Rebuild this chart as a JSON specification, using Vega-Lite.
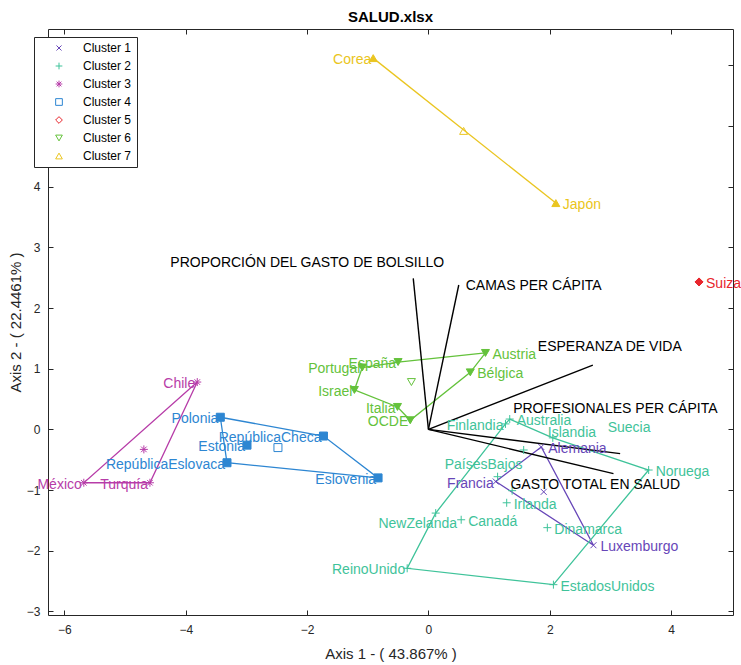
{
  "$schema": "https://vega.github.io/schema/vega-lite/v6.json",
  "width": 685,
  "height": 586,
  "autosize": {"type": "none"},
  "padding": {"left": 48, "top": 29, "right": 8, "bottom": 50},
  "background": "white",
  "title": {"text": "SALUD.xlsx", "fontSize": 15, "fontWeight": "bold", "font": "Liberation Sans", "color": "#000000", "anchor": "middle", "frame": "group", "baseline": "alphabetic", "offset": 6, "dy": 14},
  "config": {
    "font": "Liberation Sans",
    "view": {"stroke": "#262626", "strokeWidth": 1},
    "axis": {"grid": false, "domain": false, "tickColor": "#262626", "tickSize": -5, "labelFont": "Liberation Sans", "labelFontSize": 12, "labelColor": "#262626", "titleFont": "Liberation Sans", "titleFontSize": 15, "titleFontWeight": "normal", "titleColor": "#262626"}
  },
  "datasets": {
    "puntos": [
      {"pais": "Alemania", "cluster": "Cluster 1", "x": 1.86, "y": -0.29, "tipo": "pais"},
      {"pais": "Francia", "cluster": "Cluster 1", "x": 1.11, "y": -0.86, "tipo": "pais"},
      {"pais": "Luxemburgo", "cluster": "Cluster 1", "x": 2.72, "y": -1.91, "tipo": "pais"},
      {"pais": "Centroide 1", "cluster": "Cluster 1", "x": 1.90, "y": -1.03, "tipo": "centroide"},
      {"pais": "Finlandia", "cluster": "Cluster 2", "x": 1.27, "y": 0.09, "tipo": "pais"},
      {"pais": "Australia", "cluster": "Cluster 2", "x": 1.34, "y": 0.17, "tipo": "pais"},
      {"pais": "Islandia", "cluster": "Cluster 2", "x": 2.05, "y": -0.14, "tipo": "pais"},
      {"pais": "Suecia", "cluster": "Cluster 2", "x": 1.57, "y": -0.34, "tipo": "pais"},
      {"pais": "Noruega", "cluster": "Cluster 2", "x": 3.63, "y": -0.67, "tipo": "pais"},
      {"pais": "PaísesBajos", "cluster": "Cluster 2", "x": 1.14, "y": -0.78, "tipo": "pais"},
      {"pais": "Irlanda", "cluster": "Cluster 2", "x": 1.29, "y": -1.21, "tipo": "pais"},
      {"pais": "Canadá", "cluster": "Cluster 2", "x": 0.54, "y": -1.49, "tipo": "pais"},
      {"pais": "NewZelanda", "cluster": "Cluster 2", "x": 0.12, "y": -1.38, "tipo": "pais"},
      {"pais": "Dinamarca", "cluster": "Cluster 2", "x": 1.96, "y": -1.62, "tipo": "pais"},
      {"pais": "ReinoUnido", "cluster": "Cluster 2", "x": -0.35, "y": -2.29, "tipo": "pais"},
      {"pais": "EstadosUnidos", "cluster": "Cluster 2", "x": 2.06, "y": -2.56, "tipo": "pais"},
      {"pais": "Centroide 2", "cluster": "Cluster 2", "x": 1.38, "y": -1.01, "tipo": "centroide"},
      {"pais": "Chile", "cluster": "Cluster 3", "x": -3.81, "y": 0.78, "tipo": "pais"},
      {"pais": "México", "cluster": "Cluster 3", "x": -5.68, "y": -0.88, "tipo": "pais"},
      {"pais": "Turquía", "cluster": "Cluster 3", "x": -4.59, "y": -0.88, "tipo": "pais"},
      {"pais": "Centroide 3", "cluster": "Cluster 3", "x": -4.69, "y": -0.33, "tipo": "centroide"},
      {"pais": "Polonia", "cluster": "Cluster 4", "x": -3.43, "y": 0.20, "tipo": "pais"},
      {"pais": "RepúblicaCheca", "cluster": "Cluster 4", "x": -1.73, "y": -0.11, "tipo": "pais"},
      {"pais": "Estonia", "cluster": "Cluster 4", "x": -2.99, "y": -0.26, "tipo": "pais"},
      {"pais": "RepúblicaEslovaca", "cluster": "Cluster 4", "x": -3.32, "y": -0.55, "tipo": "pais"},
      {"pais": "Eslovenia", "cluster": "Cluster 4", "x": -0.83, "y": -0.80, "tipo": "pais"},
      {"pais": "Centroide 4", "cluster": "Cluster 4", "x": -2.48, "y": -0.30, "tipo": "centroide"},
      {"pais": "Suiza", "cluster": "Cluster 5", "x": 4.46, "y": 2.43, "tipo": "pais"},
      {"pais": "Centroide 5", "cluster": "Cluster 5", "x": 4.46, "y": 2.43, "tipo": "centroide"},
      {"pais": "Austria", "cluster": "Cluster 6", "x": 0.94, "y": 1.26, "tipo": "pais"},
      {"pais": "Bélgica", "cluster": "Cluster 6", "x": 0.69, "y": 0.94, "tipo": "pais"},
      {"pais": "Portugal", "cluster": "Cluster 6", "x": -1.09, "y": 1.02, "tipo": "pais"},
      {"pais": "España", "cluster": "Cluster 6", "x": -0.50, "y": 1.11, "tipo": "pais"},
      {"pais": "Israel", "cluster": "Cluster 6", "x": -1.22, "y": 0.65, "tipo": "pais"},
      {"pais": "Italia", "cluster": "Cluster 6", "x": -0.51, "y": 0.37, "tipo": "pais"},
      {"pais": "OCDE", "cluster": "Cluster 6", "x": -0.30, "y": 0.15, "tipo": "pais"},
      {"pais": "Centroide 6", "cluster": "Cluster 6", "x": -0.28, "y": 0.78, "tipo": "centroide"},
      {"pais": "Corea", "cluster": "Cluster 7", "x": -0.91, "y": 6.12, "tipo": "pais"},
      {"pais": "Japón", "cluster": "Cluster 7", "x": 2.10, "y": 3.73, "tipo": "pais"},
      {"pais": "Centroide 7", "cluster": "Cluster 7", "x": 0.58, "y": 4.92, "tipo": "centroide"}
    ],
    "envolventes": [
      {"cluster": "Cluster 1", "orden": 1, "x": 1.86, "y": -0.29},
      {"cluster": "Cluster 1", "orden": 2, "x": 1.11, "y": -0.86},
      {"cluster": "Cluster 1", "orden": 3, "x": 2.72, "y": -1.91},
      {"cluster": "Cluster 1", "orden": 4, "x": 1.86, "y": -0.29},
      {"cluster": "Cluster 2", "orden": 1, "x": 1.34, "y": 0.17},
      {"cluster": "Cluster 2", "orden": 2, "x": 2.05, "y": -0.14},
      {"cluster": "Cluster 2", "orden": 3, "x": 3.63, "y": -0.67},
      {"cluster": "Cluster 2", "orden": 4, "x": 2.06, "y": -2.56},
      {"cluster": "Cluster 2", "orden": 5, "x": -0.35, "y": -2.29},
      {"cluster": "Cluster 2", "orden": 6, "x": 0.12, "y": -1.38},
      {"cluster": "Cluster 2", "orden": 7, "x": 1.27, "y": 0.09},
      {"cluster": "Cluster 2", "orden": 8, "x": 1.34, "y": 0.17},
      {"cluster": "Cluster 3", "orden": 1, "x": -3.81, "y": 0.78},
      {"cluster": "Cluster 3", "orden": 2, "x": -5.68, "y": -0.88},
      {"cluster": "Cluster 3", "orden": 3, "x": -4.59, "y": -0.88},
      {"cluster": "Cluster 3", "orden": 4, "x": -3.81, "y": 0.78},
      {"cluster": "Cluster 4", "orden": 1, "x": -3.43, "y": 0.20},
      {"cluster": "Cluster 4", "orden": 2, "x": -1.73, "y": -0.11},
      {"cluster": "Cluster 4", "orden": 3, "x": -0.83, "y": -0.80},
      {"cluster": "Cluster 4", "orden": 4, "x": -3.32, "y": -0.55},
      {"cluster": "Cluster 4", "orden": 5, "x": -3.43, "y": 0.20},
      {"cluster": "Cluster 6", "orden": 1, "x": 0.94, "y": 1.26},
      {"cluster": "Cluster 6", "orden": 2, "x": -0.50, "y": 1.11},
      {"cluster": "Cluster 6", "orden": 3, "x": -1.09, "y": 1.02},
      {"cluster": "Cluster 6", "orden": 4, "x": -1.22, "y": 0.65},
      {"cluster": "Cluster 6", "orden": 5, "x": -0.51, "y": 0.37},
      {"cluster": "Cluster 6", "orden": 6, "x": -0.30, "y": 0.15},
      {"cluster": "Cluster 6", "orden": 7, "x": 0.69, "y": 0.94},
      {"cluster": "Cluster 6", "orden": 8, "x": 0.94, "y": 1.26},
      {"cluster": "Cluster 7", "orden": 1, "x": -0.91, "y": 6.12},
      {"cluster": "Cluster 7", "orden": 2, "x": 2.10, "y": 3.73}
    ],
    "variables": [
      {"variable": "PROPORCIÓN DEL GASTO DE BOLSILLO", "x": -0.25, "y": 2.49},
      {"variable": "CAMAS PER CÁPITA", "x": 0.50, "y": 2.38},
      {"variable": "ESPERANZA DE VIDA", "x": 2.71, "y": 1.06},
      {"variable": "PROFESIONALES PER CÁPITA", "x": 3.16, "y": -0.40},
      {"variable": "GASTO TOTAL EN SALUD", "x": 3.05, "y": -0.73}
    ]
  },
  "layer": [
    {
      "data": {"name": "envolventes"},
      "mark": {"type": "line", "strokeWidth": 1.3},
      "encoding": {
        "x": {"field": "x", "type": "quantitative", "scale": {"domain": [-6.27, 5.02], "nice": false, "zero": false}, "axis": {"orient": "bottom", "values": [-6, -4, -2, 0, 2, 4], "labelPadding": 14, "title": "Axis 1 - ( 43.867% )", "titleBaseline": "middle", "titleY": 38}},
        "y": {"field": "y", "type": "quantitative", "scale": {"domain": [-3.06, 6.6], "nice": false, "zero": false}, "axis": {"orient": "left", "values": [-3, -2, -1, 0, 1, 2, 3, 4], "labelPadding": 13, "title": "Axis 2 - ( 22.4461% )", "titleAngle": -90, "titleBaseline": "middle", "titleX": -33, "titleY": 293}},
        "order": {"field": "orden", "type": "quantitative"},
        "detail": {"field": "cluster", "type": "nominal"},
        "stroke": {"field": "cluster", "type": "nominal", "scale": {"domain": ["Cluster 7", "Cluster 6", "Cluster 5", "Cluster 4", "Cluster 3", "Cluster 2", "Cluster 1"], "range": ["#eac520", "#64c23b", "#e8262d", "#2d86d2", "#b73ca8", "#3fc39a", "#6746b8"]}, "legend": null}
      }
    },
    {
      "data": {"name": "variables"},
      "mark": {"type": "rule", "color": "#000000", "strokeWidth": 1.4},
      "encoding": {
        "x": {"field": "x", "type": "quantitative", "scale": {"domain": [-6.27, 5.02], "nice": false, "zero": false}, "axis": {"orient": "top", "values": [-6, -4, -2, 0, 2, 4], "labels": false, "title": null}},
        "y": {"field": "y", "type": "quantitative", "scale": {"domain": [-3.06, 6.6], "nice": false, "zero": false}, "axis": {"orient": "right", "values": [-3, -2, -1, 0, 1, 2, 3, 4, 5, 6], "labels": false, "title": null}},
        "x2": {"datum": 0},
        "y2": {"datum": 0}
      }
    },
    {
      "data": {"name": "puntos"},
      "transform": [{"filter": "datum.tipo == 'pais'"}],
      "mark": {"type": "point", "filled": false, "strokeWidth": 1, "size": 64, "opacity": 1},
      "encoding": {
        "x": {"field": "x", "type": "quantitative", "scale": {"domain": [-6.27, 5.02], "nice": false, "zero": false}, "axis": null},
        "y": {"field": "y", "type": "quantitative", "scale": {"domain": [-3.06, 6.6], "nice": false, "zero": false}, "axis": null},
        "color": {"field": "cluster", "type": "nominal", "scale": {"domain": ["Cluster 1", "Cluster 2", "Cluster 3", "Cluster 4", "Cluster 5", "Cluster 6", "Cluster 7"], "range": ["#6746b8", "#3fc39a", "#b73ca8", "#2d86d2", "#e8262d", "#64c23b", "#eac520"]},
          "legend": {"orient": "none", "legendX": -14, "legendY": 8, "title": null, "fillColor": "white", "strokeColor": "#262626", "padding": 5, "labelFontSize": 12, "labelFont": "Liberation Sans", "labelColor": "#000000", "symbolSize": 45, "symbolStrokeWidth": 1, "symbolOffset": 14, "labelOffset": 18, "rowPadding": 6, "zindex": 2}},
        "shape": {"field": "cluster", "type": "nominal", "scale": {"domain": ["Cluster 1", "Cluster 2", "Cluster 3", "Cluster 4", "Cluster 5", "Cluster 6", "Cluster 7"], "range": ["M-0.75,-0.75L0.75,0.75M-0.75,0.75L0.75,-0.75", "M-1,0L1,0M0,-1L0,1", "M-1,0L1,0M0,-1L0,1M-0.7,-0.7L0.7,0.7M-0.7,0.7L0.7,-0.7", "square", "diamond", "triangle-down", "triangle-up"]},
          "legend": {"orient": "none", "legendX": -14, "legendY": 8, "title": null, "fillColor": "white", "strokeColor": "#262626", "padding": 5, "labelFontSize": 12, "labelFont": "Liberation Sans", "labelColor": "#000000", "symbolSize": 45, "symbolStrokeWidth": 1, "symbolOffset": 14, "labelOffset": 18, "rowPadding": 6, "zindex": 2}}
      }
    },
    {
      "data": {"name": "puntos"},
      "transform": [{"filter": "datum.tipo == 'centroide'"}],
      "mark": {"type": "point", "filled": false, "strokeWidth": 1, "size": 64, "opacity": 1},
      "encoding": {
        "x": {"field": "x", "type": "quantitative", "scale": {"domain": [-6.27, 5.02], "nice": false, "zero": false}, "axis": null},
        "y": {"field": "y", "type": "quantitative", "scale": {"domain": [-3.06, 6.6], "nice": false, "zero": false}, "axis": null},
        "color": {"field": "cluster", "type": "nominal"},
        "shape": {"field": "cluster", "type": "nominal"}
      }
    },
    {
      "data": {"name": "puntos"},
      "transform": [{"filter": "datum.tipo == 'pais'"}, {"filter": {"field": "cluster", "oneOf": ["Cluster 4", "Cluster 5", "Cluster 6", "Cluster 7"]}}],
      "mark": {"type": "point", "filled": true, "size": 64, "opacity": 1},
      "encoding": {
        "x": {"field": "x", "type": "quantitative", "scale": {"domain": [-6.27, 5.02], "nice": false, "zero": false}, "axis": null},
        "y": {"field": "y", "type": "quantitative", "scale": {"domain": [-3.06, 6.6], "nice": false, "zero": false}, "axis": null},
        "fill": {"field": "cluster", "type": "nominal", "scale": {"domain": ["Cluster 7", "Cluster 6", "Cluster 5", "Cluster 4", "Cluster 3", "Cluster 2", "Cluster 1"], "range": ["#eac520", "#64c23b", "#e8262d", "#2d86d2", "#b73ca8", "#3fc39a", "#6746b8"]}, "legend": null},
        "shape": {"field": "cluster", "type": "nominal"}
      }
    },
    {
      "data": {"name": "puntos"},
      "transform": [{"filter": {"field": "pais", "oneOf": ["Chile", "México", "Turquía", "Polonia", "RepúblicaCheca", "Estonia", "RepúblicaEslovaca", "Eslovenia", "Portugal", "España", "Israel", "Italia", "OCDE", "Finlandia", "Francia", "ReinoUnido", "Corea"]}}],
      "mark": {"type": "text", "align": "right", "baseline": "middle", "dx": -2, "dy": 2, "fontSize": 14, "font": "Liberation Sans"},
      "encoding": {
        "x": {"field": "x", "type": "quantitative", "scale": {"domain": [-6.27, 5.02], "nice": false, "zero": false}, "axis": null},
        "y": {"field": "y", "type": "quantitative", "scale": {"domain": [-3.06, 6.6], "nice": false, "zero": false}, "axis": null},
        "text": {"field": "pais"},
        "fill": {"field": "cluster", "type": "nominal", "legend": null}
      }
    },
    {
      "data": {"name": "puntos"},
      "transform": [{"filter": {"field": "pais", "oneOf": ["Austria", "Bélgica", "Australia", "Alemania", "Noruega", "Irlanda", "Canadá", "Dinamarca", "Luxemburgo", "EstadosUnidos", "Japón", "Suiza"]}}],
      "mark": {"type": "text", "align": "left", "baseline": "middle", "dx": 7, "dy": 2, "fontSize": 14, "font": "Liberation Sans"},
      "encoding": {
        "x": {"field": "x", "type": "quantitative", "scale": {"domain": [-6.27, 5.02], "nice": false, "zero": false}, "axis": null},
        "y": {"field": "y", "type": "quantitative", "scale": {"domain": [-3.06, 6.6], "nice": false, "zero": false}, "axis": null},
        "text": {"field": "pais"},
        "fill": {"field": "cluster", "type": "nominal", "legend": null}
      }
    },
    {
      "data": {"name": "puntos"},
      "transform": [{"filter": "datum.pais == 'PaísesBajos'"}],
      "mark": {"type": "text", "align": "center", "baseline": "middle", "dx": -14, "dy": -12, "fontSize": 14, "font": "Liberation Sans"},
      "encoding": {
        "x": {"field": "x", "type": "quantitative", "scale": {"domain": [-6.27, 5.02], "nice": false, "zero": false}, "axis": null},
        "y": {"field": "y", "type": "quantitative", "scale": {"domain": [-3.06, 6.6], "nice": false, "zero": false}, "axis": null},
        "text": {"field": "pais"},
        "fill": {"field": "cluster", "type": "nominal", "legend": null}
      }
    },
    {
      "data": {"name": "puntos"},
      "transform": [{"filter": "datum.pais == 'NewZelanda'"}],
      "mark": {"type": "text", "align": "center", "baseline": "middle", "dx": -18, "dy": 11, "fontSize": 14, "font": "Liberation Sans"},
      "encoding": {
        "x": {"field": "x", "type": "quantitative", "scale": {"domain": [-6.27, 5.02], "nice": false, "zero": false}, "axis": null},
        "y": {"field": "y", "type": "quantitative", "scale": {"domain": [-3.06, 6.6], "nice": false, "zero": false}, "axis": null},
        "text": {"field": "pais"},
        "fill": {"field": "cluster", "type": "nominal", "legend": null}
      }
    },
    {
      "data": {"name": "puntos"},
      "transform": [{"filter": "datum.pais == 'Suecia'"}],
      "mark": {"type": "text", "align": "left", "baseline": "middle", "dx": 84, "dy": -22, "fontSize": 14, "font": "Liberation Sans"},
      "encoding": {
        "x": {"field": "x", "type": "quantitative", "scale": {"domain": [-6.27, 5.02], "nice": false, "zero": false}, "axis": null},
        "y": {"field": "y", "type": "quantitative", "scale": {"domain": [-3.06, 6.6], "nice": false, "zero": false}, "axis": null},
        "text": {"field": "pais"},
        "fill": {"field": "cluster", "type": "nominal", "legend": null}
      }
    },
    {
      "data": {"name": "puntos"},
      "transform": [{"filter": "datum.pais == 'Islandia'"}],
      "mark": {"type": "text", "align": "left", "baseline": "middle", "dx": -5, "dy": -5, "fontSize": 14, "font": "Liberation Sans"},
      "encoding": {
        "x": {"field": "x", "type": "quantitative", "scale": {"domain": [-6.27, 5.02], "nice": false, "zero": false}, "axis": null},
        "y": {"field": "y", "type": "quantitative", "scale": {"domain": [-3.06, 6.6], "nice": false, "zero": false}, "axis": null},
        "text": {"field": "pais"},
        "fill": {"field": "cluster", "type": "nominal", "legend": null}
      }
    },
    {
      "data": {"name": "variables"},
      "transform": [{"filter": "datum.variable == 'PROPORCIÓN DEL GASTO DE BOLSILLO'"}],
      "mark": {"type": "text", "align": "center", "baseline": "middle", "dx": -106, "dy": -15, "fontSize": 14, "font": "Liberation Sans", "color": "#000000"},
      "encoding": {
        "x": {"field": "x", "type": "quantitative", "scale": {"domain": [-6.27, 5.02], "nice": false, "zero": false}, "axis": null},
        "y": {"field": "y", "type": "quantitative", "scale": {"domain": [-3.06, 6.6], "nice": false, "zero": false}, "axis": null},
        "text": {"field": "variable"}
      }
    },
    {
      "data": {"name": "variables"},
      "transform": [{"filter": "datum.variable == 'CAMAS PER CÁPITA'"}],
      "mark": {"type": "text", "align": "left", "baseline": "middle", "dx": 7, "dy": 1, "fontSize": 14, "font": "Liberation Sans", "color": "#000000"},
      "encoding": {
        "x": {"field": "x", "type": "quantitative", "scale": {"domain": [-6.27, 5.02], "nice": false, "zero": false}, "axis": null},
        "y": {"field": "y", "type": "quantitative", "scale": {"domain": [-3.06, 6.6], "nice": false, "zero": false}, "axis": null},
        "text": {"field": "variable"}
      }
    },
    {
      "data": {"name": "variables"},
      "transform": [{"filter": "datum.variable == 'ESPERANZA DE VIDA'"}],
      "mark": {"type": "text", "align": "left", "baseline": "middle", "dx": -55, "dy": -18, "fontSize": 14, "font": "Liberation Sans", "color": "#000000"},
      "encoding": {
        "x": {"field": "x", "type": "quantitative", "scale": {"domain": [-6.27, 5.02], "nice": false, "zero": false}, "axis": null},
        "y": {"field": "y", "type": "quantitative", "scale": {"domain": [-3.06, 6.6], "nice": false, "zero": false}, "axis": null},
        "text": {"field": "variable"}
      }
    },
    {
      "data": {"name": "variables"},
      "transform": [{"filter": "datum.variable == 'PROFESIONALES PER CÁPITA'"}],
      "mark": {"type": "text", "align": "left", "baseline": "middle", "dx": -107, "dy": -45, "fontSize": 14, "font": "Liberation Sans", "color": "#000000"},
      "encoding": {
        "x": {"field": "x", "type": "quantitative", "scale": {"domain": [-6.27, 5.02], "nice": false, "zero": false}, "axis": null},
        "y": {"field": "y", "type": "quantitative", "scale": {"domain": [-3.06, 6.6], "nice": false, "zero": false}, "axis": null},
        "text": {"field": "variable"}
      }
    },
    {
      "data": {"name": "variables"},
      "transform": [{"filter": "datum.variable == 'GASTO TOTAL EN SALUD'"}],
      "mark": {"type": "text", "align": "left", "baseline": "middle", "dx": -103, "dy": 11, "fontSize": 14, "font": "Liberation Sans", "color": "#000000"},
      "encoding": {
        "x": {"field": "x", "type": "quantitative", "scale": {"domain": [-6.27, 5.02], "nice": false, "zero": false}, "axis": null},
        "y": {"field": "y", "type": "quantitative", "scale": {"domain": [-3.06, 6.6], "nice": false, "zero": false}, "axis": null},
        "text": {"field": "variable"}
      }
    }
  ],
  "resolve": {"axis": {"x": "independent", "y": "independent"}}
}
